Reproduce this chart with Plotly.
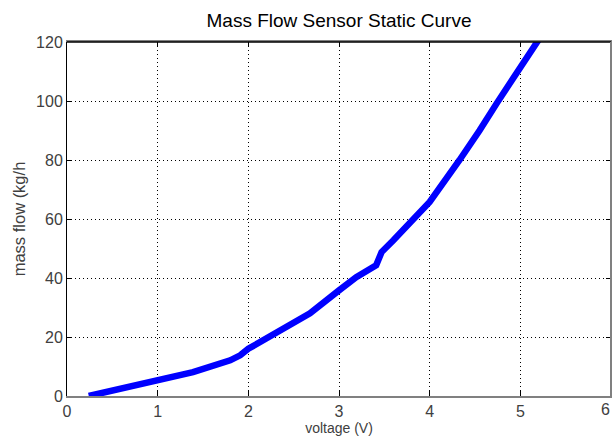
import plotly.graph_objects as go

# Sensor static curve: output voltage vs. mass flow
voltage = [0.24, 0.99, 1.39, 1.80, 1.91, 2.00, 2.13, 2.24, 2.68, 3.00, 3.19,
           3.41, 3.45, 3.47, 3.60, 3.85, 4.00, 4.33, 4.44, 4.55, 4.75, 5.00,
           5.18, 5.25]
mass_flow = [0.0, 5.0, 8.1, 12.1, 13.8, 16.0, 18.3, 20.0, 28.0, 35.8, 40.3,
             44.3, 47.5, 48.8, 52.8, 60.8, 65.8, 80.0, 85.5, 90.0, 99.7, 111.7,
             120.0, 123.0]

x_ticks = [0, 1, 2, 3, 4, 5, 6]
y_ticks = [0, 20, 40, 60, 80, 100, 120]

FONT = "Liberation Sans, Arial, sans-serif"
LABEL_GRAY = "#404040"

fig = go.Figure()
fig.add_trace(go.Scatter(
    x=voltage, y=mass_flow, mode="lines",
    line=dict(color="#0000ff", width=6.5),
    hoverinfo="skip", showlegend=False,
))

grid = dict(showgrid=True, gridcolor="black", gridwidth=1, griddash="1px,3px",
            zeroline=False, ticks="inside", ticklen=5, tickcolor="black",
            mirror="ticks", tickfont=dict(size=16, color=LABEL_GRAY))

fig.update_layout(
    width=612, height=436,
    margin=dict(l=67, r=1, t=42, b=40),
    paper_bgcolor="white", plot_bgcolor="white",
    title=dict(text="Mass Flow Sensor Static Curve", x=0.5, xref="paper",
               y=0.953, yanchor="middle",
               font=dict(family=FONT, size=19, color="black")),
    font=dict(family=FONT),
    xaxis=dict(
        range=[0, 6], tickvals=x_ticks, ticktext=[str(v) for v in x_ticks],
        showline=True, linecolor="#808080", linewidth=2,
        title=dict(text="voltage (V)", standoff=4,
                   font=dict(size=14, color=LABEL_GRAY)),
        **grid,
    ),
    yaxis=dict(
        range=[0, 120], tickvals=y_ticks, ticktext=[str(v) for v in y_ticks],
        showline=True, linecolor="black", linewidth=1,
        title=dict(text="mass flow (kg/h", standoff=6,
                   font=dict(size=16.5, color=LABEL_GRAY)),
        **grid,
    ),
    shapes=[
        # top edge of the box in black, right edge in gray
        dict(type="line", xref="paper", yref="paper", x0=0, x1=1, y0=1, y1=1,
             line=dict(color="black", width=1.5)),
        dict(type="line", xref="paper", yref="paper", x0=1, x1=1, y0=0, y1=1,
             line=dict(color="#808080", width=2)),
    ],
    annotations=[
        # last x tick label, kept inside the page at the right edge of the box
        dict(x=x_ticks[-1], y=0, xref="x", yref="y", text=str(x_ticks[-1]),
             showarrow=False, xanchor="right", yanchor="top", yshift=-3,
             xshift=1, font=dict(family=FONT, size=16, color=LABEL_GRAY)),
    ],
)

fig.write_html("out.html")
